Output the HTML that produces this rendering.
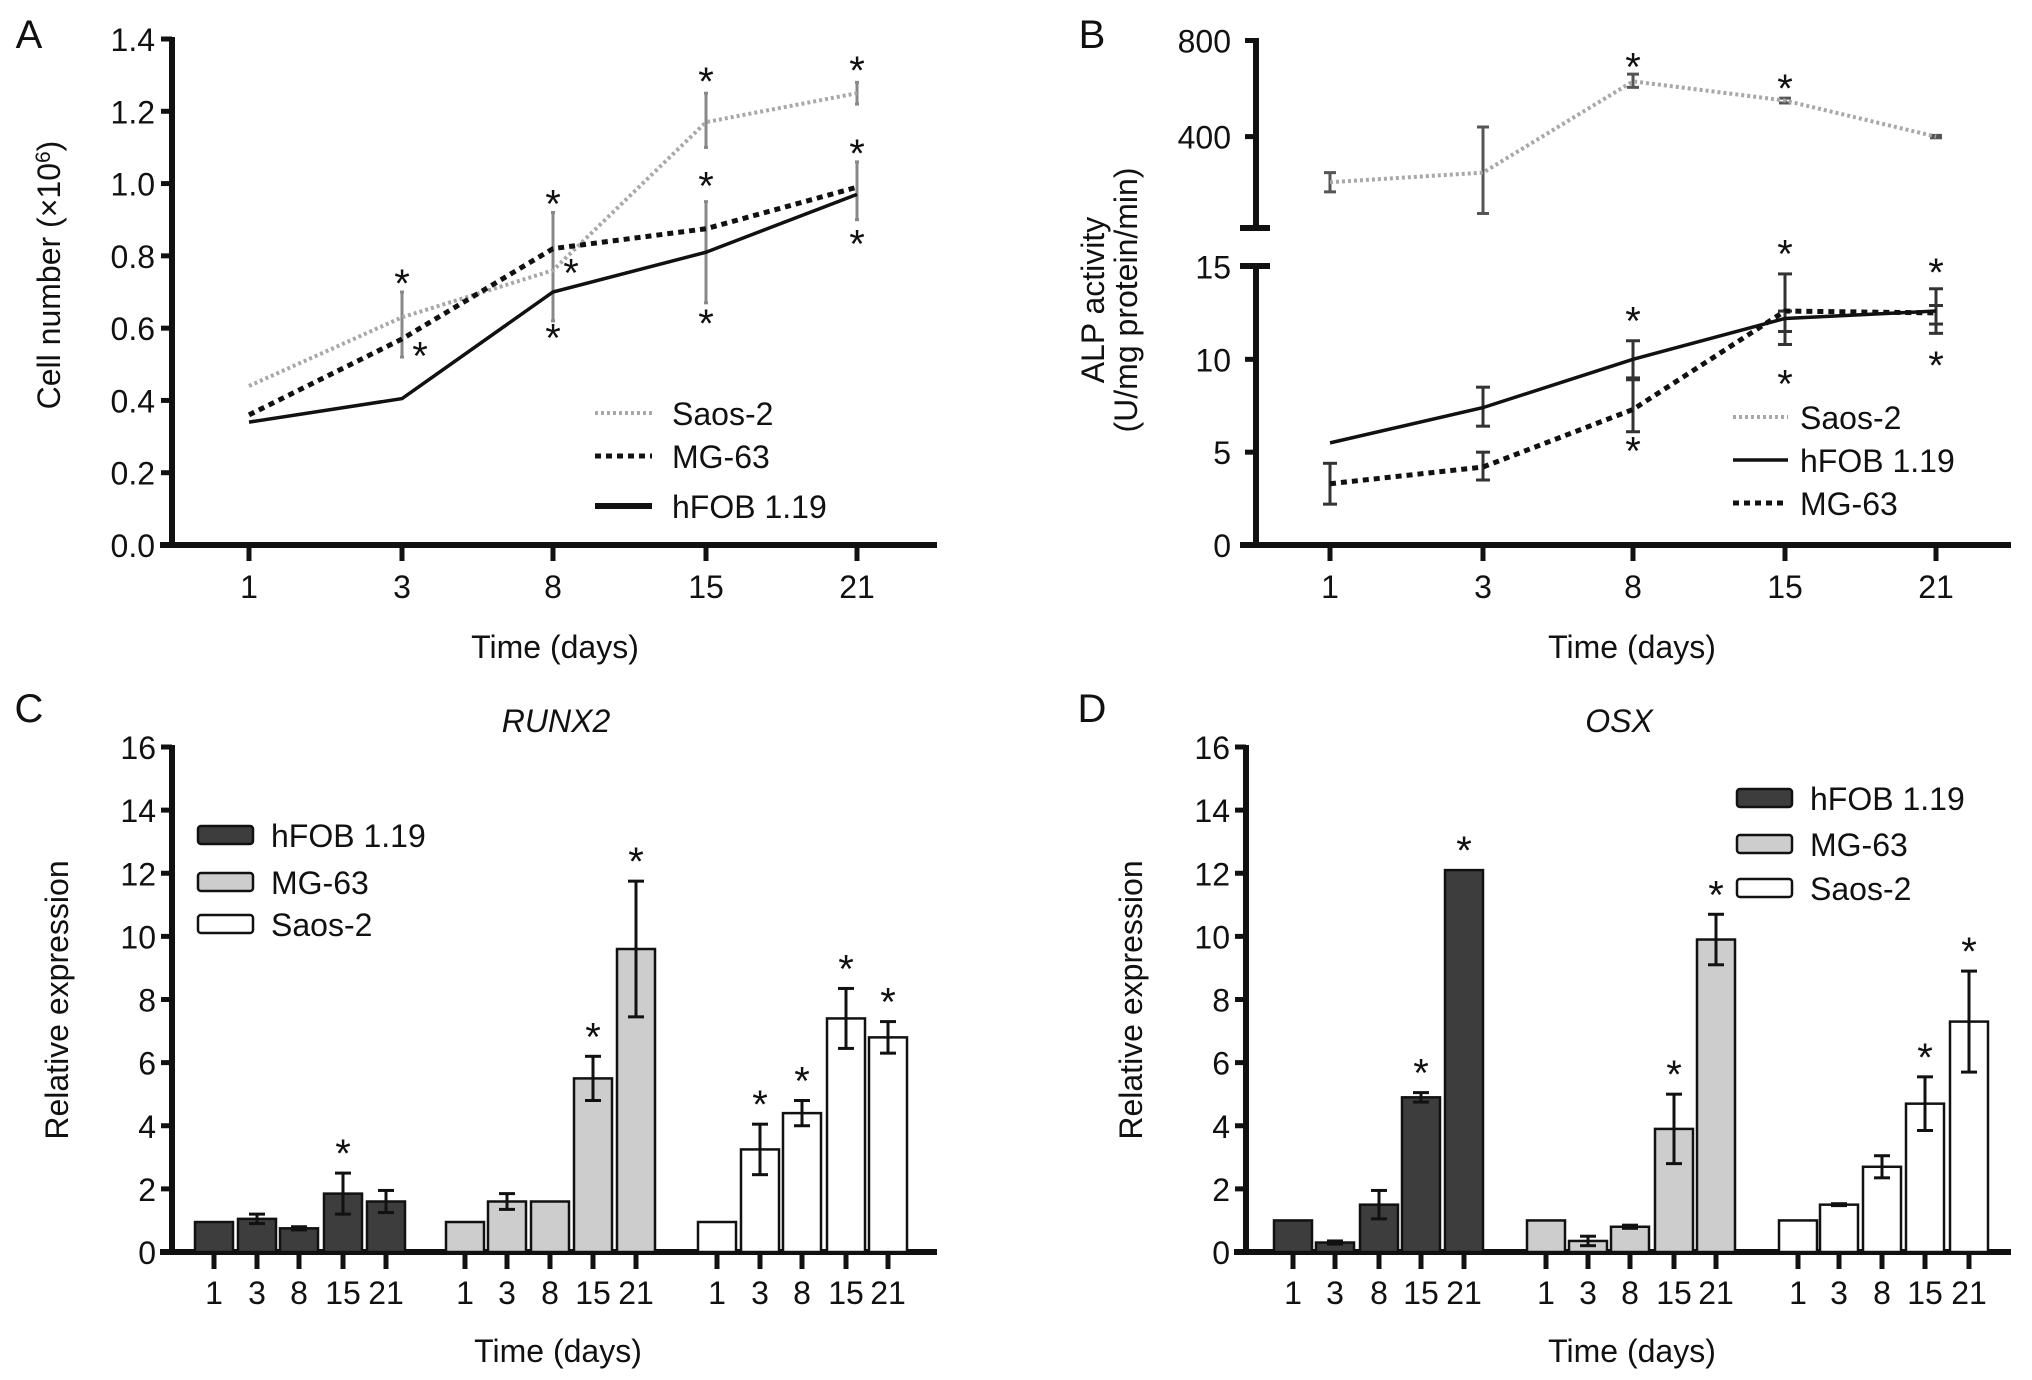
<!DOCTYPE html>
<html><head><meta charset="utf-8"><style>
html,body{margin:0;padding:0;background:#fff;}
svg{display:block;font-family:"Liberation Sans",Arial,sans-serif;}
text{fill:#111;}
</style></head><body>
<svg id="fig" width="2032" height="1380" viewBox="0 0 2032 1380" xmlns="http://www.w3.org/2000/svg">
<rect width="2032" height="1380" fill="#fff"/>
<g id="root"></g>
</svg>
<script>
// ---------- Data ----------
const days = ["1","3","8","15","21"];
// Panel A: cell number (x10^6)
const aTicks = [0,0.2,0.4,0.6,0.8,1.0,1.2,1.4];
const aSaos = [0.44,0.63,0.76,1.17,1.25];
const aMG = [0.36,0.57,0.82,0.875,0.99];
const aHFOB = [0.34,0.405,0.70,0.81,0.97];
const aErrIdx = [1,2,3,3,4,4];
const aErrLo = [0.52,0.62,1.10,0.67,1.22,0.90];
const aErrHi = [0.70,0.92,1.25,0.95,1.28,1.06];
const aStarIdx = [1,1,2,2,2,3,3,3,4,4,4];
const aStarVal = [0.73,0.53,0.95,0.76,0.58,1.29,1.0,0.62,1.32,1.09,0.84];
const aStarShift = [0,1,0,1,0,0,0,0,0,0,0];
// Panel B: ALP activity
const bUpTicks = [400,800];
const bLowTicks = [0,5,10,15];
const bSaos = [210,250,630,550,400];
const bSaosLo = [170,80,605,540,395];
const bSaosHi = [250,440,660,560,405];
const bHFOB = [5.5,7.4,10.0,12.2,12.6];
const bHFOBLo = [null,6.4,9.0,10.8,11.4];
const bHFOBHi = [null,8.5,11.0,14.6,13.8];
const bMG = [3.3,4.2,7.3,12.6,12.5];
const bMGLo = [2.2,3.5,6.1,11.5,11.9];
const bMGHi = [4.4,5.0,8.9,12.6,12.9];
const bStarUpIdx = [2,3];
const bStarUpVal = [700,610];
const bStarLowIdx = [2,2,3,3,4,4];
const bStarLowVal = [12.2,5.2,15.8,8.8,14.8,9.8];
// Panel C: RUNX2
const barTicks = [0,2,4,6,8,10,12,14,16];
const cHFOB = [0.95,1.05,0.75,1.85,1.6];
const cHFOBErr = [0,0.15,0.05,0.65,0.35];
const cMG = [0.95,1.6,1.6,5.5,9.6];
const cMGErr = [0,0.25,0,0.7,2.15];
const cSaos = [0.95,3.25,4.4,7.4,6.8];
const cSaosErr = [0,0.8,0.4,0.95,0.5];
const cStars = [[0,3],[1,3],[1,4],[2,1],[2,2],[2,3],[2,4]];
// Panel D: OSX
const dHFOB = [1.0,0.3,1.5,4.9,12.1];
const dHFOBErr = [0,0.05,0.45,0.15,0];
const dMG = [1.0,0.35,0.8,3.9,9.9];
const dMGErr = [0,0.15,0.05,1.1,0.8];
const dSaos = [1.0,1.5,2.7,4.7,7.3];
const dSaosErr = [0,0.03,0.35,0.85,1.6];
const dStars = [[0,3],[0,4],[1,3],[1,4],[2,3],[2,4]];

// ---------- Helpers ----------
const NS="http://www.w3.org/2000/svg";
const root=document.getElementById('root');
const FS=32;
function el(tag,attrs,parent,txt){const e=document.createElementNS(NS,tag);for(const k in attrs)e.setAttribute(k,attrs[k]);if(txt!==undefined)e.textContent=txt;(parent||root).appendChild(e);return e;}
function grp(name){const g=el('g',{});return g;}
function txt(g,x,y,s,size,anchor,name,extra){const t=el('text',Object.assign({x:x,y:y,'font-size':size,'text-anchor':anchor||'middle'},extra||{}),g,s);return t;}
function star(g,x,y){const t=el('text',{x:x,y:y+16,'font-size':40,'text-anchor':'middle'},g,'*');}
function errbar(g,x,y1,y2,col,w){el('line',{x1:x,x2:x,y1:y1,y2:y2,stroke:col,'stroke-width':3},g);el('line',{x1:x-w,x2:x+w,y1:y1,y2:y1,stroke:col,'stroke-width':3},g);el('line',{x1:x-w,x2:x+w,y1:y2,y2:y2,stroke:col,'stroke-width':3},g);}
const styles={saos:{stroke:'#a8a8a8','stroke-width':4,'stroke-dasharray':'3 3'},mg:{stroke:'#111','stroke-width':5,'stroke-dasharray':'6 5'},hfob:{stroke:'#111','stroke-width':3.5}};
function polyline(g,xs,vals,sy,st,name){const pts=vals.map((v,i)=>xs[i]+','+sy(v)).join(' ');const p=el('polyline',Object.assign({points:pts,fill:'none'},st),g);}

// ---------- Panel A ----------
(function(){
 const g=grp('panel-a-cell-number');
 const X=[249,402,553,706,857];
 const y0=545,y1=39;const sy=v=>y0-(v/1.4)*(y0-y1);
 txt(g,29,48,'A',40,'middle','panel-label-a');
 el('line',{x1:172,x2:172,y1:37,y2:548,stroke:'#111','stroke-width':6},g);
 el('line',{x1:160,x2:937,y1:545,y2:545,stroke:'#111','stroke-width':6},g);
 aTicks.forEach(v=>{el('line',{x1:161,x2:172,y1:sy(v),y2:sy(v),stroke:'#111','stroke-width':5},g);txt(g,155,sy(v)+12,v.toFixed(1),FS,'end','y-tick-label');});
 X.forEach((x,i)=>{el('line',{x1:x,x2:x,y1:545,y2:561,stroke:'#111','stroke-width':5},g);txt(g,x,598,days[i],FS,'middle','x-tick-label');});
 txt(g,555,658,'Time (days)',FS,'middle','x-axis-title');
 const yl=txt(g,0,0,'',FS,'middle','y-axis-title',{transform:'translate(60,275) rotate(-90)'});
 yl.innerHTML='Cell number (×10<tspan dy="-10" font-size="21">6</tspan><tspan dy="10">)</tspan>';
 aErrIdx.forEach((idx,k)=>errbar(g,X[idx],sy(aErrLo[k]),sy(aErrHi[k]),'#888',2));
 polyline(g,X,aSaos,sy,styles.saos,'line-saos-2');
 polyline(g,X,aMG,sy,styles.mg,'line-mg-63');
 polyline(g,X,aHFOB,sy,styles.hfob,'line-hfob-1-19');
 aStarIdx.forEach((idx,k)=>star(g,X[idx]+(aStarShift[k]?18:0),sy(aStarVal[k])));
 const lg=grp('legend-a');g.appendChild(lg);
 [['Saos-2','saos'],['MG-63','mg'],['hFOB 1.19','hfob']].forEach((e,i)=>{const y=[413,456,506][i];const st=Object.assign({},styles[e[1]]);if(e[1]==='hfob')st['stroke-width']=6;el('line',Object.assign({x1:595,x2:652,y1:y,y2:y},st),lg);txt(lg,672,y+12,e[0],FS,'start','legend-entry');});
})();

// ---------- Panel B ----------
(function(){
 const g=grp('panel-b-alp-activity');
 const X=[1330,1483,1633,1785,1936];
 const syU=v=>136.6-(v-400)*(96.1/400);
 const syL=v=>545-(v/15)*(545-266.5);
 txt(g,1092,48,'B',40,'middle','panel-label-b');
 el('line',{x1:1256,x2:1256,y1:38,y2:228,stroke:'#111','stroke-width':6},g);
 el('line',{x1:1256,x2:1256,y1:266,y2:548,stroke:'#111','stroke-width':6},g);
 el('line',{x1:1240,x2:1270,y1:228,y2:228,stroke:'#111','stroke-width':6},g);
 el('line',{x1:1240,x2:1270,y1:266,y2:266,stroke:'#111','stroke-width':6},g);
 el('line',{x1:1240,x2:2011,y1:545,y2:545,stroke:'#111','stroke-width':6},g);
 bUpTicks.forEach(v=>{el('line',{x1:1245,x2:1256,y1:syU(v),y2:syU(v),stroke:'#111','stroke-width':5},g);txt(g,1231,syU(v)+12,String(v),FS,'end','y-tick-label');});
 bLowTicks.forEach(v=>{el('line',{x1:1245,x2:1256,y1:syL(v),y2:syL(v),stroke:'#111','stroke-width':5},g);txt(g,1231,syL(v)+12,String(v),FS,'end','y-tick-label');});
 X.forEach((x,i)=>{el('line',{x1:x,x2:x,y1:545,y2:561,stroke:'#111','stroke-width':5},g);txt(g,x,598,days[i],FS,'middle','x-tick-label');});
 txt(g,1632,658,'Time (days)',FS,'middle','x-axis-title');
 txt(g,0,0,'ALP activity',FS,'middle','y-axis-title',{transform:'translate(1104,300) rotate(-90)'});
 txt(g,0,0,'(U/mg protein/min)',FS,'middle','y-axis-title-units',{transform:'translate(1137,300) rotate(-90)'});
 X.forEach((x,i)=>errbar(g,x,syU(bSaosLo[i]),syU(bSaosHi[i]),'#555',6));
 polyline(g,X,bSaos,syU,styles.saos,'line-saos-2');
 X.forEach((x,i)=>{if(bHFOBLo[i]!==null)errbar(g,x,syL(bHFOBLo[i]),syL(bHFOBHi[i]),'#333',7);errbar(g,x,syL(bMGLo[i]),syL(bMGHi[i]),'#333',7);});
 polyline(g,X,bHFOB,syL,styles.hfob,'line-hfob-1-19');
 polyline(g,X,bMG,syL,styles.mg,'line-mg-63');
 bStarUpIdx.forEach((idx,k)=>star(g,X[idx],syU(bStarUpVal[k])));
 bStarLowIdx.forEach((idx,k)=>star(g,X[idx],syL(bStarLowVal[k])));
 const lg=grp('legend-b');g.appendChild(lg);
 [['Saos-2','saos'],['hFOB 1.19','hfob'],['MG-63','mg']].forEach((e,i)=>{const y=[417,460,503][i];el('line',Object.assign({x1:1733,x2:1788,y1:y,y2:y},styles[e[1]]),lg);txt(lg,1800,y+12,e[0],FS,'start','legend-entry');});
})();

// ---------- Bar panels ----------
function barPanel(name,label,title,axisX,labelX,ylabX,centers,series,errs,stars,legendX,legendRows,legendTextX){
 const g=grp(name);
 const y0=1252,y1=747;const sy=v=>y0-(v/16)*(y0-y1);
 txt(g,labelX,722,label,40,'middle','panel-label');
 txt(g,title[1],732,title[0],FS,'middle','chart-title',{'font-style':'italic'});
 el('line',{x1:axisX,x2:axisX,y1:745,y2:1255,stroke:'#111','stroke-width':6},g);
 el('line',{x1:axisX-12,x2:axisX+765,y1:1252,y2:1252,stroke:'#111','stroke-width':6},g);
 barTicks.forEach(v=>{el('line',{x1:axisX-11,x2:axisX,y1:sy(v),y2:sy(v),stroke:'#111','stroke-width':5},g);txt(g,axisX-16,sy(v)+12,String(v),FS,'end','y-tick-label');});
 txt(g,0,0,'Relative expression',FS,'middle','y-axis-title',{transform:'translate('+ylabX+',1000) rotate(-90)'});
 txt(g,axisX+386,1362,'Time (days)',FS,'middle','x-axis-title');
 const fills=['#3d3d3d','#cdcdcd','#ffffff'];
 series.forEach((vals,s)=>{vals.forEach((v,i)=>{const cx=centers[s][i];const r=el('rect',{x:cx-19,y:sy(v),width:38,height:y0-sy(v),fill:fills[s],stroke:'#111','stroke-width':2.5},g);
   el('line',{x1:cx,x2:cx,y1:1252,y2:1269,stroke:'#111','stroke-width':5},g);txt(g,cx,1304,days[i],FS,'middle','x-tick-label');
   const e=errs[s][i];if(e>0)errbar(g,cx,sy(v-e),sy(v+e),'#111',8);});});
 stars.forEach(st=>{const s=st[0],i=st[1];star(g,centers[s][i],sy(series[s][i]+errs[s][i])-22);});
 const lg=grp('legend-'+name);g.appendChild(lg);
 ['hFOB 1.19','MG-63','Saos-2'].forEach((n,k)=>{const y=legendRows[k];el('rect',{x:legendX,y:y-9,width:55,height:18,rx:3,fill:fills[k],stroke:'#111','stroke-width':2.5},lg);txt(lg,legendTextX,y+12,n,FS,'start','legend-entry');});
}
barPanel('panel-c-runx2','C',['RUNX2',556],172,29,68,
 [[214,257,299,343,386],[465,507,550,593,636],[717,760,802,846,888]],
 [cHFOB,cMG,cSaos],[cHFOBErr,cMGErr,cSaosErr],cStars,198,[835,882,924],271);
barPanel('panel-d-osx','D',['OSX',1619],1246,1092,1142,
 [[1293,1335,1379,1421,1464],[1546,1588,1630,1674,1716],[1798,1839,1882,1925,1969]],
 [dHFOB,dMG,dSaos],[dHFOBErr,dMGErr,dSaosErr],dStars,1737,[798,844,888],1810);
</script>
</body></html>
